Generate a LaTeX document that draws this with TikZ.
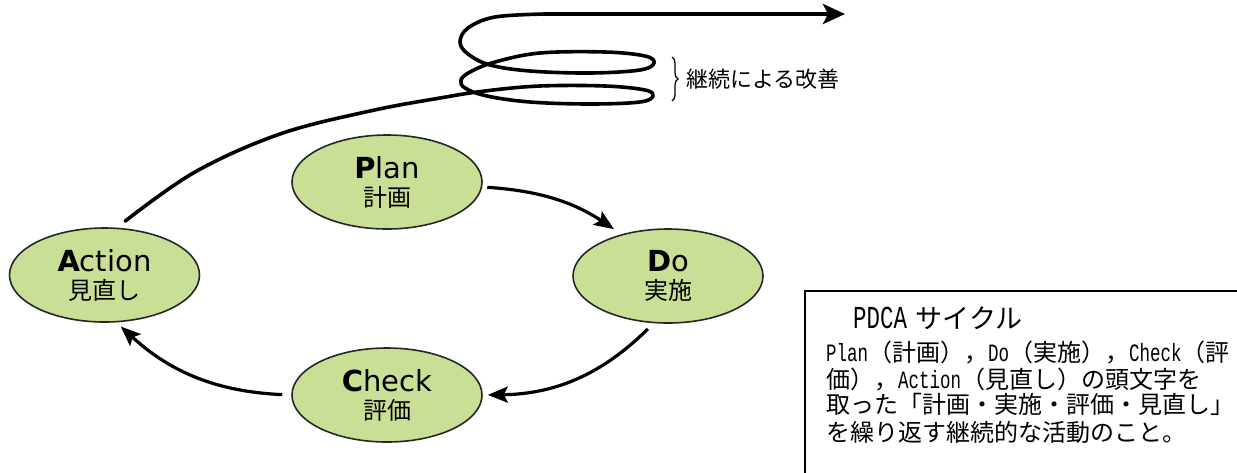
\documentclass[tikz,border=0pt]{standalone}
\usepackage{fontspec}
\usetikzlibrary{shapes.geometric,arrows.meta,decorations.pathreplacing,calc}
\newfontfamily\latf{DejaVu Sans}
\newfontfamily\cjkf{Noto Sans CJK JP}
\newfontfamily\monof[FakeStretch=0.7]{Liberation Mono}
\definecolor{stagefill}{RGB}{202,223,150}
\newcommand{\boxjp}{\cjkf\fontsize{24}{26}\selectfont}
\newcommand{\boxlat}{\monof\fontsize{25}{26}\selectfont}
\newcommand{\stagejp}{\cjkf\fontsize{24}{28}\selectfont}
\begin{document}
\begin{tikzpicture}[x=1pt,y=-1pt,
  stage/.style={ellipse, draw=black!85, line width=1.6pt, fill=stagefill,
    minimum width=190pt, minimum height=94pt, inner sep=0pt, align=center,
    font=\latf\fontsize{29}{28}\selectfont},
  flow/.style={line width=3.2pt, -{Stealth[length=20pt,width=16pt,inset=4pt]}},
  coil/.style={line width=3.6pt, line cap=round, line join=round},
  boxline/.style={anchor=base west, inner sep=0pt},
]
\useasboundingbox (0,0) rectangle (1237,472);

% stages
\node[stage] (plan)   at (387,182)   {{\bfseries P}lan\\{\stagejp 計画}};
\node[stage] (do)     at (668,276)   {{\bfseries D}o\\{\stagejp 実施}};
\node[stage] (check)  at (387,395)   {{\bfseries C}heck\\{\stagejp 評価}};
\node[stage] (action) at (104.5,275) {{\bfseries A}ction\\{\stagejp 見直し}};

% cycle arrows
\draw[flow, shorten <=5pt, shorten >=9pt] (plan.-3) to[bend left=15] (do.138);
\draw[flow, shorten <=8pt, shorten >=5pt] (do.253) to[bend left=22] (check.east);
\draw[flow, shorten <=9pt, shorten >=6pt] (check.west) to[bend left=20] (action.284);

% coil of continuous improvement
\coordinate (coilstart) at ($(action.center)!1.147!(action.69)$);
\coordinate (coilend) at (845,14);
\draw[coil, -{Stealth[length=22pt,width=20pt,inset=5pt]}]
  plot[smooth, tension=0.6] coordinates {
    (coilstart) (195,172) (280,134) (370,111) (440,98) (485,91)
    (540,86) (605,86) (645,90) (653,96) (640,102) (590,104) (530,102)
    (487,96) (465,88) (461,80) (470,72) (495,62)
    (540,53) (605,52) (645,56) (654,63) (640,70) (590,73) (530,71)
    (490,65) (468,54) (460,42) (468,28) (495,17) (545,14)}
  -- (coilend);

% brace and label
\draw[decorate, decoration={brace, amplitude=6pt}, line width=1.3pt] (672,57) -- (672,101);
\node[anchor=west, inner sep=0pt, font=\cjkf\fontsize{22}{22}\selectfont] (kaizen) at (686,79) {継続による改善};

% explanation box
\draw[line width=1.8pt] (805,480) -- (805,291) -- (1245,291);
\node[boxline] (bl1) at (826,328) {{\cjkf\fontsize{27}{27}\selectfont 　}{\monof\fontsize{32}{32}\selectfont PDCA}\hspace{9pt}{\cjkf\fontsize{27}{27}\selectfont サイクル}};
\node[boxline] (bl2) at (826,361) {{\boxlat Plan}{\boxjp （計画），}{\boxlat Do}{\boxjp （実施），}{\boxlat Check}{\boxjp （評}};
\node[boxline] (bl3) at (826,388) {{\boxjp 価），}{\boxlat Action}{\boxjp （見直し）の頭文字を}};
\node[boxline] (bl4) at (826,413) {{\boxjp 取った「計画・実施・評価・見直し」}};
\node[boxline] (bl5) at (826,441) {{\boxjp を繰り返す継続的な活動のこと。}};
\end{tikzpicture}
\end{document}
